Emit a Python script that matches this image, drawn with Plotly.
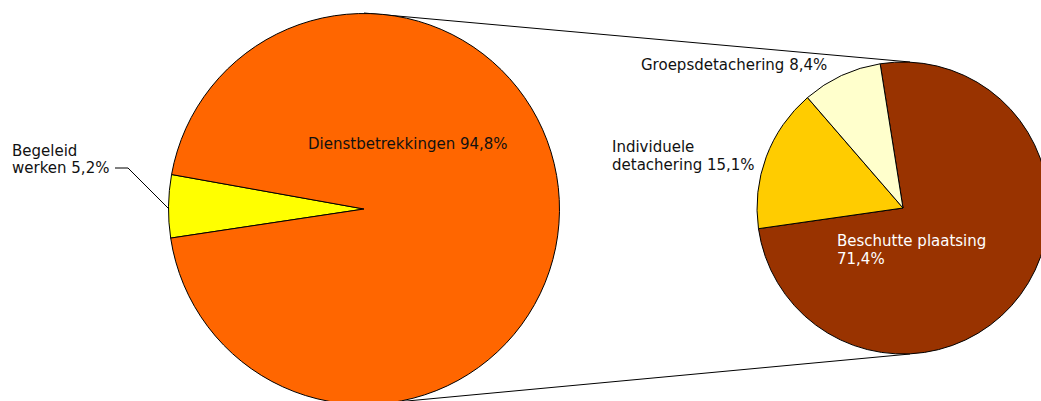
import plotly.graph_objects as go

# ---- data ----
main_labels = ["Begeleid werken", "Dienstbetrekkingen"]
main_values = [5.2, 94.8]
main_colors = ["#FFFF00", "#FF6600"]

sub_labels = ["Beschutte plaatsing", "Individuele detachering", "Groepsdetachering"]
sub_values = [71.4, 15.1, 8.4]
sub_colors = ["#993300", "#FFCC00", "#FFFFCC"]

W, H = 1060, 410  # figure is a bit larger than the window; the overflow is clipped


def px_x(x):
    return x / W


def px_y(y):
    return 1 - y / H


def domain(cx, cy, r):
    return dict(x=[px_x(cx - r), px_x(cx + r)], y=[px_y(cy + r), px_y(cy - r)])


fig = go.Figure()

# main pie: small slice near 9 o'clock
small_share = main_values[0] / sum(main_values) * 360
fig.add_trace(go.Pie(
    labels=main_labels, values=main_values, sort=False, direction="clockwise",
    rotation=270.8 - small_share / 2,
    marker=dict(colors=main_colors, line=dict(color="black", width=1)),
    textinfo="none", hoverinfo="label+value", showlegend=False,
    domain=domain(364, 209, 195.5),
))

# secondary pie
fig.add_trace(go.Pie(
    labels=sub_labels, values=sub_values, sort=False, direction="clockwise",
    rotation=-9,
    marker=dict(colors=sub_colors, line=dict(color="black", width=1)),
    textinfo="none", hoverinfo="label+value", showlegend=False,
    domain=domain(903, 208, 146),
))

# connector lines between the pies
for (x0, y0, x1, y1) in [(364, 13, 910, 62), (364, 405, 910, 354)]:
    fig.add_shape(type="line", xref="paper", yref="paper",
                  x0=px_x(x0), y0=px_y(y0), x1=px_x(x1), y1=px_y(y1),
                  line=dict(color="black", width=1), layer="below")

# leader line for "Begeleid werken"
fig.add_shape(type="path", xref="paper", yref="paper",
              path=f"M {px_x(115)} {px_y(168)} L {px_x(128)} {px_y(168)} L {px_x(169)} {px_y(209)}",
              line=dict(color="black", width=1))

FONT = "DejaVu Sans"


def fmt(v):
    return f"{v:.1f}%".replace(".", ",")


def label(text, x, y, color="#111111"):
    fig.add_annotation(text=text, x=px_x(x), y=px_y(y), xref="paper", yref="paper",
                       xanchor="left", yanchor="middle", showarrow=False, align="left",
                       font=dict(family=FONT, size=15, color=color))


label("Begeleid", 10, 151)
label(f"werken {fmt(main_values[0])}", 10, 168)
label(f"Dienstbetrekkingen {fmt(main_values[1])}", 306, 144)
label(f"Groepsdetachering {fmt(sub_values[2])}", 639, 65)
label("Individuele", 610, 147)
label(f"detachering {fmt(sub_values[1])}", 610, 165)
label("Beschutte plaatsing", 835, 240.5, color="#FFFFFF")
label(fmt(sub_values[0]), 835, 259, color="#FFFFFF")

fig.update_layout(
    width=W, height=H, margin=dict(l=0, r=0, t=0, b=0),
    paper_bgcolor="white", plot_bgcolor="white",
)

fig.write_html(
    "out.html",
    config={"displayModeBar": False},
    post_script="document.body.style.margin='0';document.body.style.overflow='hidden';"
                "document.documentElement.style.overflow='hidden';",
)
